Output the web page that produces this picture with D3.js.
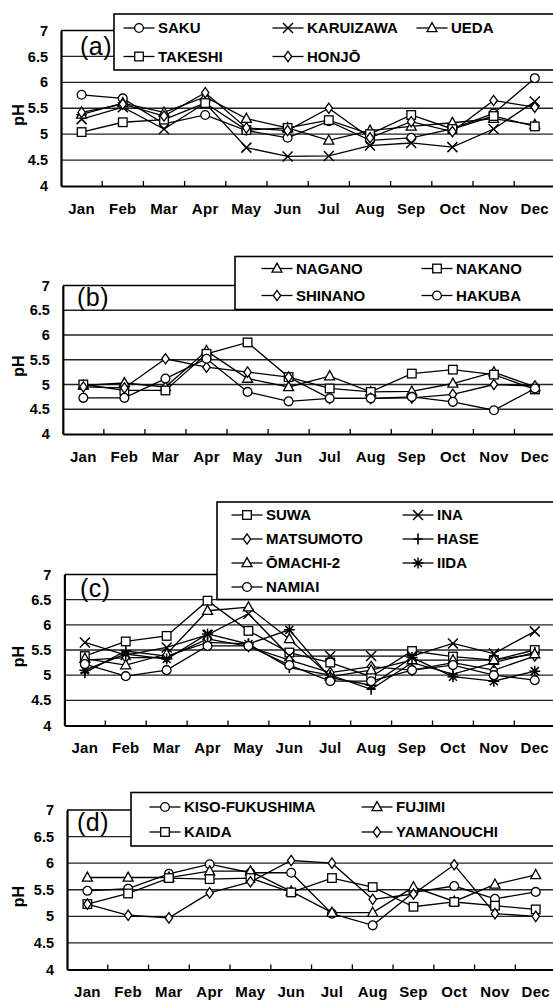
<!DOCTYPE html>
<html><head><meta charset="utf-8">
<script src="https://cdn.jsdelivr.net/npm/d3@7"></script>
<style>
body{margin:0;background:#fff}
svg{display:block}
text{font-family:"Liberation Sans",Arial,Helvetica,sans-serif}
</style>
</head><body>
<svg id="chart" width="553" height="1000"></svg>
<script>
// ---------- data ----------
const months = ["Jan","Feb","Mar","Apr","May","Jun","Jul","Aug","Sep","Oct","Nov","Dec"];
const yTicks = [4, 4.5, 5, 5.5, 6, 6.5, 7];
const gridValues = [4.5, 5, 5.5, 6, 6.5];

// panel (a)
const saku      = [5.76, 5.69, 5.20, 5.37, 5.07, 4.93, 5.25, 4.88, 4.93, 5.10, 5.40, 6.08];
const karuizawa = [5.29, 5.52, 5.10, 5.60, 4.74, 4.57, 4.58, 4.78, 4.83, 4.75, 5.10, 5.63];
const ueda      = [5.38, 5.60, 5.42, 5.72, 5.30, 5.12, 4.88, 5.07, 5.15, 5.22, 5.30, 5.18];
const takeshi   = [5.04, 5.23, 5.28, 5.60, 5.08, 5.12, 5.27, 5.00, 5.37, 5.10, 5.35, 5.15];
const honjo     = [5.42, 5.58, 5.35, 5.80, 5.12, 5.07, 5.50, 4.93, 5.24, 5.05, 5.65, 5.52];

// panel (b)
const nagano  = [4.98, 5.03, 4.95, 5.68, 5.12, 4.95, 5.17, 4.85, 4.86, 5.02, 5.25, 4.95];
const nakano  = [5.00, 4.88, 4.88, 5.62, 5.85, 5.15, 4.92, 4.85, 5.22, 5.30, 5.20, 4.90];
const shinano = [4.95, 4.93, 5.52, 5.35, 5.25, 5.15, 4.72, 4.72, 4.73, 4.80, 5.00, 4.97];
const hakuba  = [4.73, 4.73, 5.12, 5.52, 4.85, 4.66, 4.72, 4.72, 4.75, 4.65, 4.48, 4.92];

// panel (c)
const suwa      = [5.38, 5.67, 5.78, 6.48, 5.88, 5.45, 5.25, 4.97, 5.48, 5.37, 5.30, 5.50];
const ina       = [5.65, 5.40, 5.55, 5.80, 6.22, 5.38, 5.38, 5.38, 5.38, 5.63, 5.43, 5.87];
const matsumoto = [5.30, 5.35, 5.35, 5.72, 5.57, 5.30, 5.05, 5.17, 5.10, 5.25, 5.10, 5.38];
const hase      = [5.05, 5.48, 5.38, 5.65, 5.62, 5.15, 5.00, 4.72, 5.25, 5.02, 5.25, 5.45];
const omachi2   = [5.33, 5.20, 5.42, 6.28, 6.35, 5.72, 4.97, 5.10, 5.30, 5.30, 5.30, 5.42];
const iida      = [5.10, 5.42, 5.32, 5.82, 5.62, 5.90, 4.95, 4.80, 5.35, 4.97, 4.88, 5.08];
const namiai    = [5.22, 4.98, 5.10, 5.58, 5.58, 5.20, 4.88, 4.88, 5.10, 5.20, 5.00, 4.90];

// panel (d)
const kisoFukushima = [5.48, 5.52, 5.80, 5.98, 5.82, 5.82, 5.05, 4.83, 5.45, 5.57, 5.33, 5.46];
const fujimi        = [5.73, 5.73, 5.73, 5.85, 5.85, 5.47, 5.07, 5.07, 5.55, 5.28, 5.60, 5.78];
const kaida         = [5.23, 5.43, 5.72, 5.70, 5.72, 5.45, 5.72, 5.55, 5.18, 5.27, 5.20, 5.13];
const yamanouchi    = [5.23, 5.02, 4.97, 5.44, 5.65, 6.05, 6.00, 5.32, 5.42, 5.97, 5.05, 5.00];

// ---------- layout ----------
const panels = [
  { label: "(a)", left: 61, band: 41.2, y7: 30.5, y4: 186, labelX: 80, labelY: 55,
    legendBox: [114, 14, 556, 70],
    cols: [139, 288, 432], rows: [28, 56.5],
    series: [
      { name: "SAKU", values: saku, marker: "circle", col: 0, row: 0 },
      { name: "KARUIZAWA", values: karuizawa, marker: "x", col: 1, row: 0 },
      { name: "UEDA", values: ueda, marker: "triangle", col: 2, row: 0 },
      { name: "TAKESHI", values: takeshi, marker: "square", col: 0, row: 1 },
      { name: "HONJŌ", values: honjo, marker: "diamond", col: 1, row: 1 }
    ] },
  { label: "(b)", left: 62.8, band: 41.06, y7: 285.5, y4: 434, labelX: 77, labelY: 306,
    legendBox: [235, 256.5, 556, 309.5],
    cols: [277, 437], rows: [268.5, 295.5],
    series: [
      { name: "NAGANO", values: nagano, marker: "triangle", col: 0, row: 0 },
      { name: "NAKANO", values: nakano, marker: "square", col: 1, row: 0 },
      { name: "SHINANO", values: shinano, marker: "diamond", col: 0, row: 1 },
      { name: "HAKUBA", values: hakuba, marker: "circle", col: 1, row: 1 }
    ] },
  { label: "(c)", left: 64.4, band: 40.9, y7: 574.5, y4: 725.5, labelX: 80, labelY: 597,
    legendBox: [217, 502, 556, 599.5],
    cols: [247, 418], rows: [515, 539, 563, 587],
    series: [
      { name: "SUWA", values: suwa, marker: "square", col: 0, row: 0 },
      { name: "INA", values: ina, marker: "x", col: 1, row: 0 },
      { name: "MATSUMOTO", values: matsumoto, marker: "diamond", col: 0, row: 1 },
      { name: "HASE", values: hase, marker: "plus", col: 1, row: 1 },
      { name: "ŌMACHI-2", values: omachi2, marker: "triangle", col: 0, row: 2 },
      { name: "IIDA", values: iida, marker: "asterisk", col: 1, row: 2 },
      { name: "NAMIAI", values: namiai, marker: "circle", col: 0, row: 3 }
    ] },
  { label: "(d)", left: 67, band: 40.76, y7: 810, y4: 969.5, labelX: 77, labelY: 831,
    legendBox: [131, 792.5, 556, 846],
    cols: [165, 377], rows: [807, 832],
    series: [
      { name: "KISO-FUKUSHIMA", values: kisoFukushima, marker: "circle", col: 0, row: 0 },
      { name: "FUJIMI", values: fujimi, marker: "triangle", col: 1, row: 0 },
      { name: "KAIDA", values: kaida, marker: "square", col: 0, row: 1 },
      { name: "YAMANOUCHI", values: yamanouchi, marker: "diamond", col: 1, row: 1 }
    ] }
];

const svg = d3.select("#chart");
const INK = "#000";
const FONT = '"Liberation Sans",Arial,sans-serif';

function drawMarker(g, type, cx, cy) {
  const s = g.append("g").attr("transform", `translate(${cx},${cy})`)
    .attr("stroke", INK).attr("stroke-width", 1.3).attr("fill", "#fff");
  if (type === "circle") s.append("circle").attr("r", 4.4);
  else if (type === "square") s.append("rect").attr("x", -4.3).attr("y", -4.3).attr("width", 8.6).attr("height", 8.6);
  else if (type === "triangle") s.append("path").attr("d", "M0,-5.4L5,3.7L-5,3.7Z");
  else if (type === "diamond") s.append("path").attr("d", "M0,-5.2L3.7,0L0,5.2L-3.7,0Z");
  else if (type === "x") s.append("path").attr("fill", "none").attr("stroke-width", 1.5).attr("d", "M-5,-5L5,5M-5,5L5,-5");
  else if (type === "plus") s.append("path").attr("fill", "none").attr("stroke-width", 1.6).attr("d", "M0,-5.5V5.5M-4.5,0H4.5");
  else if (type === "asterisk") s.append("path").attr("fill", "none").attr("stroke-width", 1.5)
    .attr("d", "M0,-5.5V5.5M-5.5,0H5.5M-4,-4L4,4M-4,4L4,-4");
}

panels.forEach(p => {
  const g = svg.append("g");
  const right = p.left + 12 * p.band;
  const x = d3.scaleBand().domain(months).range([p.left, right]).padding(0);
  const y = d3.scaleLinear().domain([4, 7]).range([p.y4, p.y7]);
  const cx = m => x(m) + x.bandwidth() / 2;

  // grid lines
  g.selectAll("line.grid").data(gridValues).join("line").attr("class", "grid")
    .attr("x1", p.left).attr("x2", right)
    .attr("y1", d => y(d)).attr("y2", d => y(d))
    .attr("stroke", "#222").attr("stroke-width", 1.3);
  // top frame at 7
  g.append("line").attr("x1", p.left).attr("x2", right)
    .attr("y1", y(7)).attr("y2", y(7)).attr("stroke", INK).attr("stroke-width", 1.6);

  // y axis
  const ya = g.append("g").attr("transform", `translate(${p.left},0)`)
    .call(d3.axisLeft(y).tickValues(yTicks).tickFormat(d => String(d)).tickSize(0).tickPadding(13));
  ya.select(".domain").attr("stroke", INK).attr("stroke-width", 2.2);
  ya.selectAll("text").attr("font-size", 14.5).attr("font-weight", "bold").attr("fill", INK)
    .attr("font-family", FONT);

  // x axis
  const xa = g.append("g").attr("transform", `translate(0,${p.y4})`)
    .call(d3.axisBottom(x).tickSize(0).tickSizeOuter(0));
  xa.select(".domain").attr("stroke", INK).attr("stroke-width", 2.2);
  xa.selectAll("text").attr("y", 27.5).attr("dy", null)
    .attr("font-size", 15).attr("font-weight", "bold").attr("fill", INK)
    .attr("font-family", FONT).attr("letter-spacing", 0.3);
  // inner category separators
  g.selectAll("line.sep").data(months.slice(1)).join("line").attr("class", "sep")
    .attr("x1", d => x(d)).attr("x2", d => x(d))
    .attr("y1", p.y4).attr("y2", p.y4 - 5)
    .attr("stroke", INK).attr("stroke-width", 1.3);

  // pH label
  g.append("text").attr("transform", `translate(18,${y(5.37)}) rotate(-90)`)
    .attr("text-anchor", "middle").attr("dominant-baseline", "central")
    .attr("font-size", 16).attr("font-weight", "bold").text("pH");

  // series
  const line = d3.line().x((d, i) => cx(months[i])).y(d => y(d));
  p.series.forEach(s => {
    g.append("path").datum(s.values).attr("d", line)
      .attr("fill", "none").attr("stroke", INK).attr("stroke-width", 1.3);
  });
  p.series.forEach(s => {
    s.values.forEach((v, i) => drawMarker(g, s.marker, cx(months[i]), y(v)));
  });

  // panel label
  g.append("text").attr("x", p.labelX).attr("y", p.labelY)
    .attr("font-size", 25).attr("letter-spacing", 0.5).text(p.label);

  // legend
  const [lx0, ly0, lx1, ly1] = p.legendBox;
  g.append("rect").attr("x", lx0).attr("y", ly0).attr("width", lx1 - lx0).attr("height", ly1 - ly0)
    .attr("fill", "#fff").attr("stroke", INK).attr("stroke-width", 1.6);
  p.series.forEach(s => {
    const mx = p.cols[s.col], my = p.rows[s.row];
    g.append("line").attr("x1", mx - 15.5).attr("x2", mx + 15.5).attr("y1", my).attr("y2", my)
      .attr("stroke", INK).attr("stroke-width", 1.3);
    drawMarker(g, s.marker, mx, my);
    g.append("text").attr("x", mx + 19).attr("y", my).attr("dy", "0.36em")
      .attr("font-size", 15).attr("font-weight", "bold").text(s.name);
  });
});
</script>
</body></html>
